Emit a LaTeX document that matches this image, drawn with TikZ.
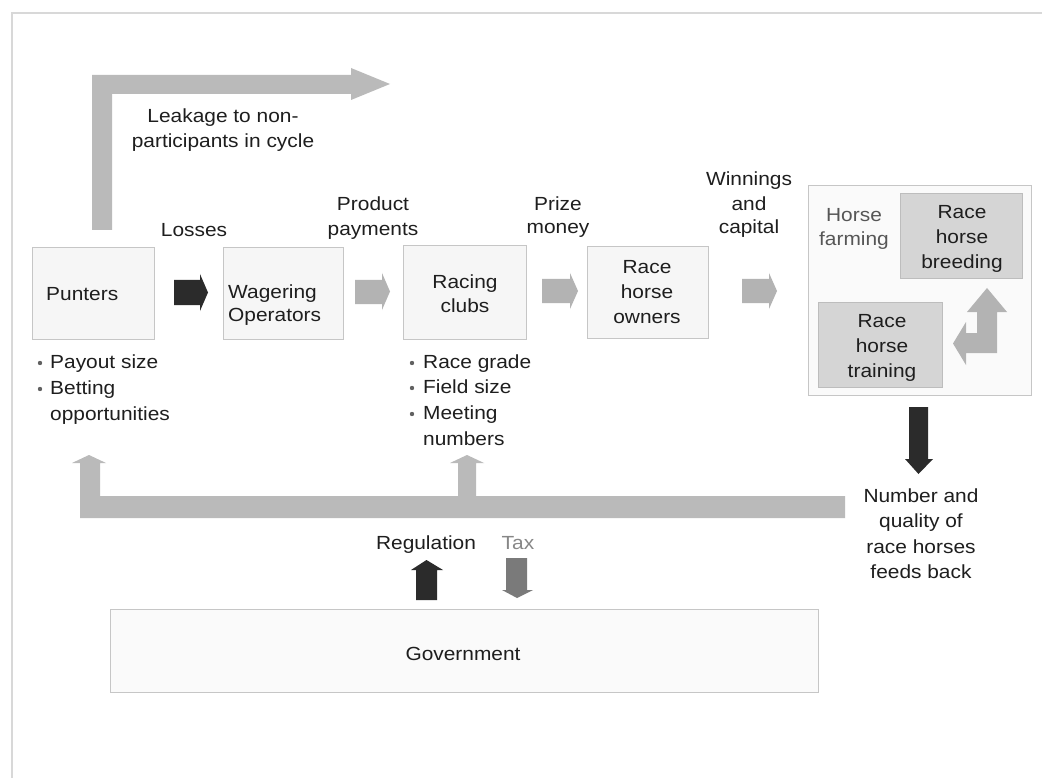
\documentclass[tikz,border=0pt]{standalone}
\usepackage{fontspec}
\setmainfont{Liberation Sans}[FakeStretch=1.1]
\definecolor{ink}{HTML}{1E1E1E}
\definecolor{boxline}{HTML}{C6C6C6}
\definecolor{boxfill}{HTML}{F6F6F6}
\definecolor{innerfill}{HTML}{D5D5D5}
\definecolor{innerline}{HTML}{BDBDBD}
\definecolor{bigarrow}{HTML}{BABABA}
\definecolor{smallarrow}{HTML}{B3B3B3}
\definecolor{darkarrow}{HTML}{2B2B2B}
\definecolor{taxarrow}{HTML}{7A7A7A}
\definecolor{frameline}{HTML}{D8D8D8}
\newcommand\ts{\rule{0pt}{15pt}}
\begin{document}
\begin{tikzpicture}[x=1pt,y=-1pt,
  box/.style={draw=boxline, fill=boxfill, line width=0.8pt, inner sep=0pt},
  innerbox/.style={draw=innerline, fill=innerfill, line width=0.8pt, inner sep=0pt},
  lbl/.style={inner sep=0pt, align=center, anchor=north, text=ink, font=\fontsize{19}{24}\selectfont},
  lbll/.style={lbl, align=left, anchor=north west},
  bul/.style={fill=ink!70},
  rarrow/.style={fill=smallarrow},
]
\useasboundingbox (0,0) rectangle (1042,778);
\fill[white] (0,0) rectangle (1042,778);
% frame
\draw[frameline, line width=1.5pt] (12,778) -- (12,13) -- (1042,13);

% leakage arrow
\fill[bigarrow] (92,230) -- (92,75) -- (351,75) -- (351,68) -- (390,84) -- (351,100) -- (351,94) -- (112,94) -- (112,230) -- cycle;
\node[lbl] (leak) at (223,107) {\ts Leakage to non-\\[1pt]participants in cycle};

% boxes
\node[box, minimum width=122pt, minimum height=92pt] (punters) at (93,293) {};
\node[box, minimum width=120pt, minimum height=92pt] (wager) at (283,293) {};
\node[box, minimum width=123pt, minimum height=94pt] (racing) at (464.5,292) {};
\node[box, minimum width=121pt, minimum height=92pt] (owners) at (647.5,292) {};
\node[box, fill=white!50!boxfill, minimum width=223pt, minimum height=210pt] (farm) at (919.5,290) {};
\node[innerbox, minimum width=122pt, minimum height=85pt] (breed) at (961,235.5) {};
\node[innerbox, minimum width=124pt, minimum height=85pt] (train) at (880,344.5) {};
\node[box, fill=white!40!boxfill, minimum width=708pt, minimum height=83pt] (gov) at (464,650.5) {};

% box texts
\node[lbll] (punters-t) at (46,285) {\ts Punters};
\node[lbll] (wager-t) at (228,283) {\ts Wagering\\[-1pt]Operators};
\node[lbl] (racing-t) at (465,273) {\ts Racing\\clubs};
\node[lbl] (owners-t) at (647,258) {\ts Race\\[1pt]horse\\[1pt]owners};
\node[lbl, text=ink!75] (farm-t) at (854,206) {\ts Horse\\farming};
\node[lbl] (breed-t) at (962,203) {\ts Race\\[1pt]horse\\[1pt]breeding};
\node[lbl] (train-t) at (882,312) {\ts Race\\[1pt]horse\\[1pt]training};
\node[lbl] (gov-t) at (463,645) {\ts Government};

% flow labels
\node[lbl] (losses) at (194,221) {\ts Losses};
\node[lbl] (product) at (373,195) {\ts Product\\[1pt]payments};
\node[lbl] (prize) at (558,195) {\ts Prize\\[-1pt]money};
\node[lbl] (winnings) at (749,170) {\ts Winnings\\[1pt]and\\[-1pt]capital};

% small right arrows
\fill[darkarrow] (174,280) -- (200,280) -- (200,274) -- (208,292.5) -- (200,311) -- (200,305) -- (174,305) -- cycle;
\fill[rarrow] (355,280) -- (382,280) -- (382,273) -- (390,291.5) -- (382,310) -- (382,304) -- (355,304) -- cycle;
\fill[rarrow] (542,279) -- (570,279) -- (570,273) -- (578,291) -- (570,309) -- (570,303) -- (542,303) -- cycle;
\fill[rarrow] (742,279) -- (769,279) -- (769,273) -- (777,291) -- (769,309) -- (769,303) -- (742,303) -- cycle;

% turn arrow in farm box
\fill[smallarrow] (997,353) -- (997,312) -- (1007,312) -- (987,288) -- (967,312) -- (977,312) -- (977,333) -- (966,333) -- (966,322) -- (953,343.5) -- (966,365) -- (966,353) -- cycle;

% bullet lists
\fill[bul] (40,363) circle (2.2pt);
\fill[bul] (40,389) circle (2.2pt);
\node[lbll] (punters-l) at (50,353) {\ts Payout size\\[2pt]Betting\\[2pt]opportunities};
\fill[bul] (412,363) circle (2.2pt);
\fill[bul] (412,388) circle (2.2pt);
\fill[bul] (412,414) circle (2.2pt);
\node[lbll] (racing-l) at (423,353) {\ts Race grade\\[1pt]Field size\\[2pt]Meeting\\[2pt]numbers};

% feedback arrow
\fill[bigarrow] (80,518) -- (845,518) -- (845,496) -- (476,496) -- (476,463) -- (484,463) -- (467,455) -- (450,463) -- (458,463) -- (458,496) -- (100,496) -- (100,463) -- (106,463) -- (89,455) -- (72,463) -- (80,463) -- cycle;

% down dark arrow from farm
\fill[darkarrow] (909,407) -- (928,407) -- (928,459) -- (933,459) -- (918.5,474) -- (905,459) -- (909,459) -- cycle;
\node[lbl] (quality) at (921,487) {\ts Number and\\[1pt]quality of\\[2pt]race horses\\[1pt]feeds back};

% regulation & tax
\node[lbl] (reg) at (426,534) {\ts Regulation};
\node[lbl, text=black!47] (tax) at (518,534) {\ts Tax};
\fill[darkarrow] (416,600) -- (416,570) -- (411,570) -- (426.5,560) -- (443,570) -- (437,570) -- (437,600) -- cycle;
\fill[taxarrow] (506,558) -- (527,558) -- (527,590) -- (533,590) -- (517,598) -- (502,590) -- (506,590) -- cycle;
\end{tikzpicture}
\end{document}
